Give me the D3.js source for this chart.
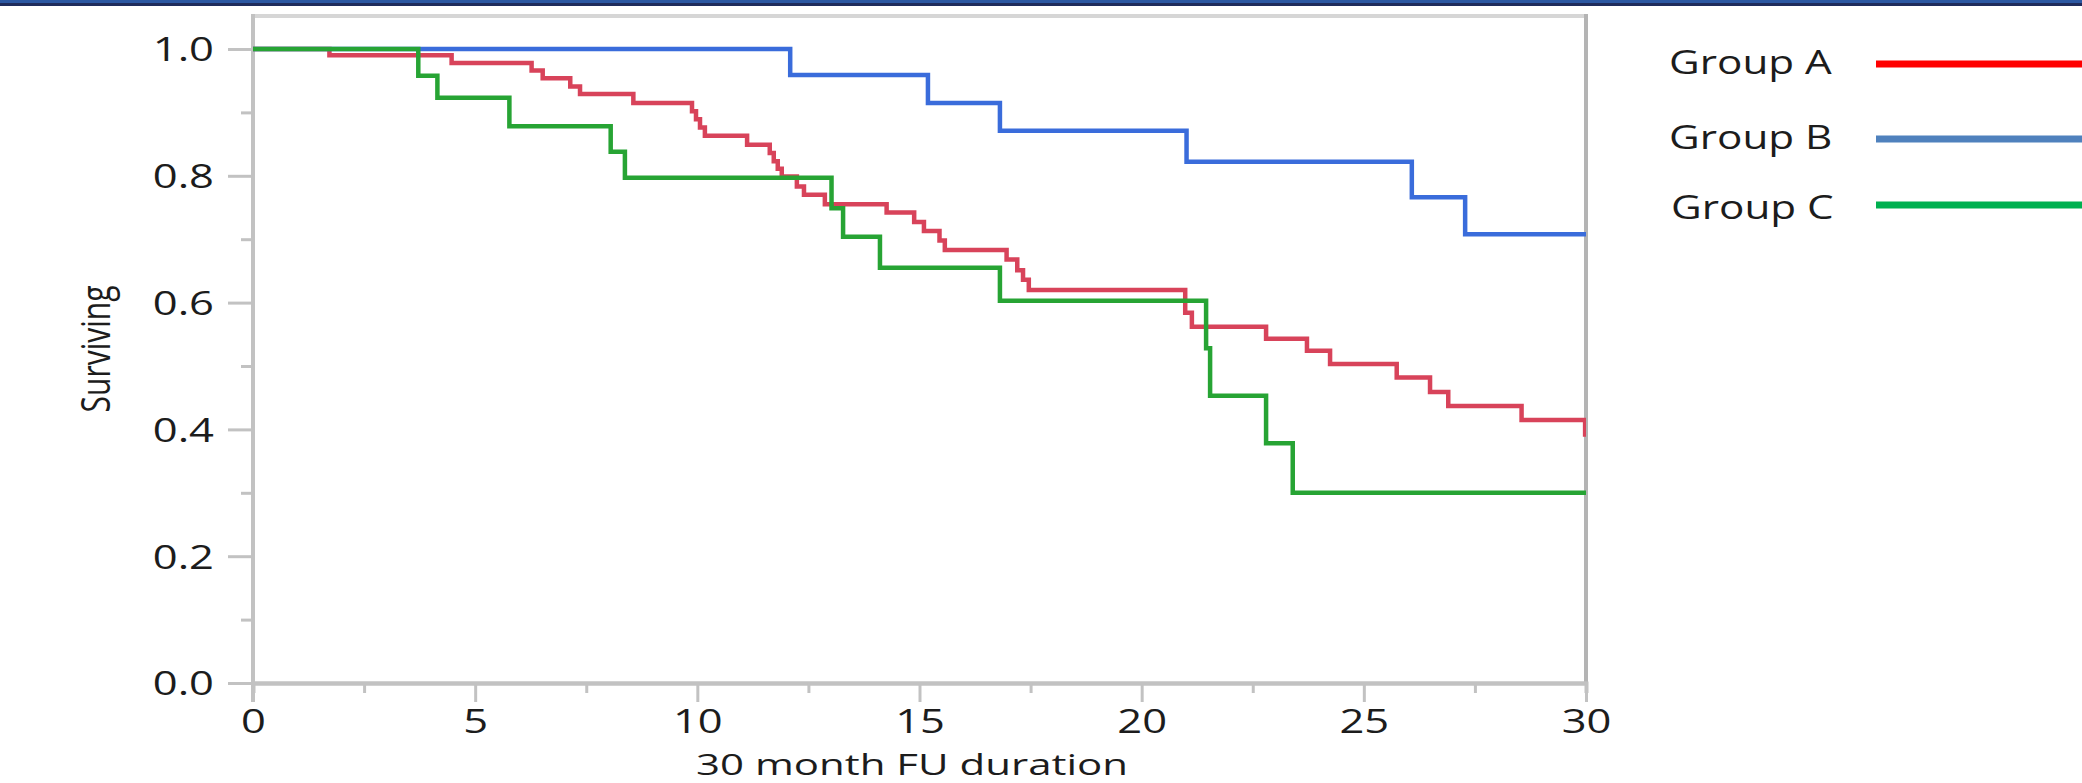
<!DOCTYPE html>
<html>
<head>
<meta charset="utf-8">
<script src="https://cdn.jsdelivr.net/npm/d3@7/dist/d3.min.js"></script>
<style>
  body { margin: 0; background: #ffffff; }
  text { font-family: "Open Sans", sans-serif; fill: #1c1c1c; }
</style>
</head>
<body>
<div id="my_dataviz"></div>
<script>
// Kaplan-Meier steps (month, proportion surviving)
const groupATime = [0, 1.72, 4.47, 6.27, 6.52, 7.14, 7.36, 8.56, 9.88, 9.97, 10.06, 10.17, 11.12, 11.63, 11.72, 11.81, 11.9, 12.24, 12.4, 12.87, 14.26, 14.88, 15.1, 15.45, 15.57, 16.96, 17.2, 17.33, 17.46, 20.98, 21.13, 22.8, 23.72, 24.24, 25.74, 26.49, 26.9, 28.55, 29.98, 30]
const groupASurv = [1.0, 0.990, 0.978, 0.966, 0.954, 0.941, 0.929, 0.915, 0.902, 0.889, 0.876, 0.863, 0.849, 0.836, 0.823, 0.811, 0.799, 0.783, 0.770, 0.755, 0.742, 0.727, 0.713, 0.698, 0.683, 0.668, 0.651, 0.636, 0.620, 0.584, 0.562, 0.543, 0.524, 0.503, 0.482, 0.459, 0.437, 0.415, 0.392, 0.392]

const groupBTime = [0, 12.09, 15.19, 16.81, 21.01, 26.08, 27.28, 30]
const groupBSurv = [1.0, 0.959, 0.915, 0.871, 0.822, 0.766, 0.708, 0.708]

const groupCTime = [0, 3.72, 4.15, 5.77, 8.05, 8.37, 13.02, 13.28, 14.11, 16.81, 21.45, 21.54, 22.8, 23.4, 30]
const groupCSurv = [1.0, 0.958, 0.923, 0.878, 0.838, 0.797, 0.749, 0.704, 0.655, 0.603, 0.528, 0.453, 0.378, 0.300, 0.300]

const groupNames = ["Group A", "Group B", "Group C"]
const xTicks = [0, 5, 10, 15, 20, 25, 30]
const xMinorTicks = [2.5, 7.5, 12.5, 17.5, 22.5, 27.5]
const yTicks = [0, 0.2, 0.4, 0.6, 0.8, 1.0]
const yMinorTicks = [0.1, 0.3, 0.5, 0.7, 0.9]

// set the dimensions of the page
const width = 2082
const height = 783
const plot = { left: 253, right: 1586, top: 16, bottom: 683 }
const sx = 1.32   // the picture is stretched sideways, so the text is too

const lineColors = ["#d8435a", "#3a6cdb", "#27a434"]
const legendColors = ["#ff0000", "#4f81bd", "#00b050"]
const axisGrey = "#c2c2c2"

var svg = d3.select("#my_dataviz")
  .append("svg")
    .attr("width", width)
    .attr("height", height)

// dark band along the top edge
svg.append("rect").attr("x", 0).attr("y", 0).attr("width", width).attr("height", 3).attr("fill", "#2c58a2")
svg.append("rect").attr("x", 0).attr("y", 3).attr("width", width).attr("height", 3).attr("fill", "#1f2c5c")

// scales
var x = d3.scaleLinear().domain([0, 30]).range([plot.left, plot.right])
var y = d3.scaleLinear().domain([0, 1]).range([plot.bottom, 49])

// frame top and right
svg.append("line")
  .attr("x1", plot.left).attr("x2", plot.right)
  .attr("y1", plot.top).attr("y2", plot.top)
  .attr("stroke", "#d6d6d6").attr("stroke-width", 4)
svg.append("line")
  .attr("x1", plot.right).attr("x2", plot.right)
  .attr("y1", plot.top - 2).attr("y2", plot.bottom)
  .attr("stroke", "#b4b4b4").attr("stroke-width", 4)

// Add X axis
var xAxis = svg.append("g")
  .attr("transform", "translate(0," + plot.bottom + ")")
  .call(d3.axisBottom(x).tickValues(xTicks).tickSize(19).tickSizeOuter(0))
xAxis.append("g")
  .call(d3.axisBottom(x).tickValues(xMinorTicks).tickSize(10).tickFormat(""))
xAxis.selectAll("path.domain").attr("stroke", axisGrey).attr("stroke-width", 4)
xAxis.selectAll("line").attr("stroke", axisGrey).attr("stroke-width", 3)
xAxis.selectAll("text")
  .attr("y", 50).attr("dy", null)
  .attr("transform", "scale(1.36,1)")
  .style("font-size", "32px")
  .style("fill", "#1c1c1c")

// Add Y axis
var yAxis = svg.append("g")
  .attr("transform", "translate(" + plot.left + ",0)")
  .call(d3.axisLeft(y).tickValues(yTicks).tickSize(25).tickSizeOuter(0).tickFormat(d3.format(".1f")))
yAxis.append("g")
  .call(d3.axisLeft(y).tickValues(yMinorTicks).tickSize(12).tickFormat(""))
yAxis.selectAll("path.domain").remove()
yAxis.append("line")
  .attr("x1", 0).attr("x2", 0)
  .attr("y1", plot.top - 2).attr("y2", plot.bottom + 19)
  .attr("stroke", axisGrey).attr("stroke-width", 4)
yAxis.selectAll("g.tick line").attr("stroke", axisGrey).attr("stroke-width", 3)
yAxis.selectAll("text")
  .attr("x", -39 / sx).attr("dy", "0.36em")
  .attr("transform", "scale(" + sx + ",1)")
  .style("font-size", "33px")
  .style("fill", "#1c1c1c")

// the survival curves
var clip = svg.append("clipPath").attr("id", "plotclip")
clip.append("rect")
  .attr("x", plot.left).attr("y", plot.top)
  .attr("width", plot.right - plot.left).attr("height", plot.bottom - plot.top)

var series = [
  { name: groupNames[0], time: groupATime, surv: groupASurv },
  { name: groupNames[1], time: groupBTime, surv: groupBSurv },
  { name: groupNames[2], time: groupCTime, surv: groupCSurv }
]

var stepLine = d3.line()
  .x(function(d) { return x(d[0]) })
  .y(function(d) { return y(d[1]) })
  .curve(d3.curveStepAfter)

svg.append("g")
  .attr("clip-path", "url(#plotclip)")
  .selectAll("path")
  .data(series)
  .join("path")
    .attr("fill", "none")
    .attr("stroke", function(d, i) { return lineColors[i] })
    .attr("stroke-width", 4.5)
    .attr("d", function(d) { return stepLine(d3.zip(d.time, d.surv)) })

// axis titles
svg.append("text")
  .attr("text-anchor", "middle")
  .attr("transform", "translate(912,774.5) scale(1.4,1)")
  .style("font-size", "30px")
  .text("30 month FU duration")

svg.append("text")
  .attr("text-anchor", "middle")
  .attr("dominant-baseline", "central")
  .attr("transform", "translate(94,349) scale(" + sx + ",1) rotate(-90)")
  .style("font-size", "30px")
  .text("Surviving")

// legend
var legendY = [62, 137, 207]
var legend = svg.append("g")
  .selectAll("g")
  .data(groupNames)
  .join("g")
    .attr("transform", function(d, i) { return "translate(0," + legendY[i] + ")" })

legend.append("text")
  .attr("dominant-baseline", "central")
  .attr("transform", function(d, i) { return "translate(" + (i == 2 ? 1671 : 1669) + ",0) scale(" + sx + ",1)" })
  .style("font-size", "32px")
  .text(function(d) { return d })

legend.append("line")
  .attr("x1", 1876).attr("x2", width)
  .attr("y1", function(d, i) { return i == 2 ? -2 : 2 })
  .attr("y2", function(d, i) { return i == 2 ? -2 : 2 })
  .attr("stroke", function(d, i) { return legendColors[i] })
  .attr("stroke-width", 7)
</script>
</body>
</html>
